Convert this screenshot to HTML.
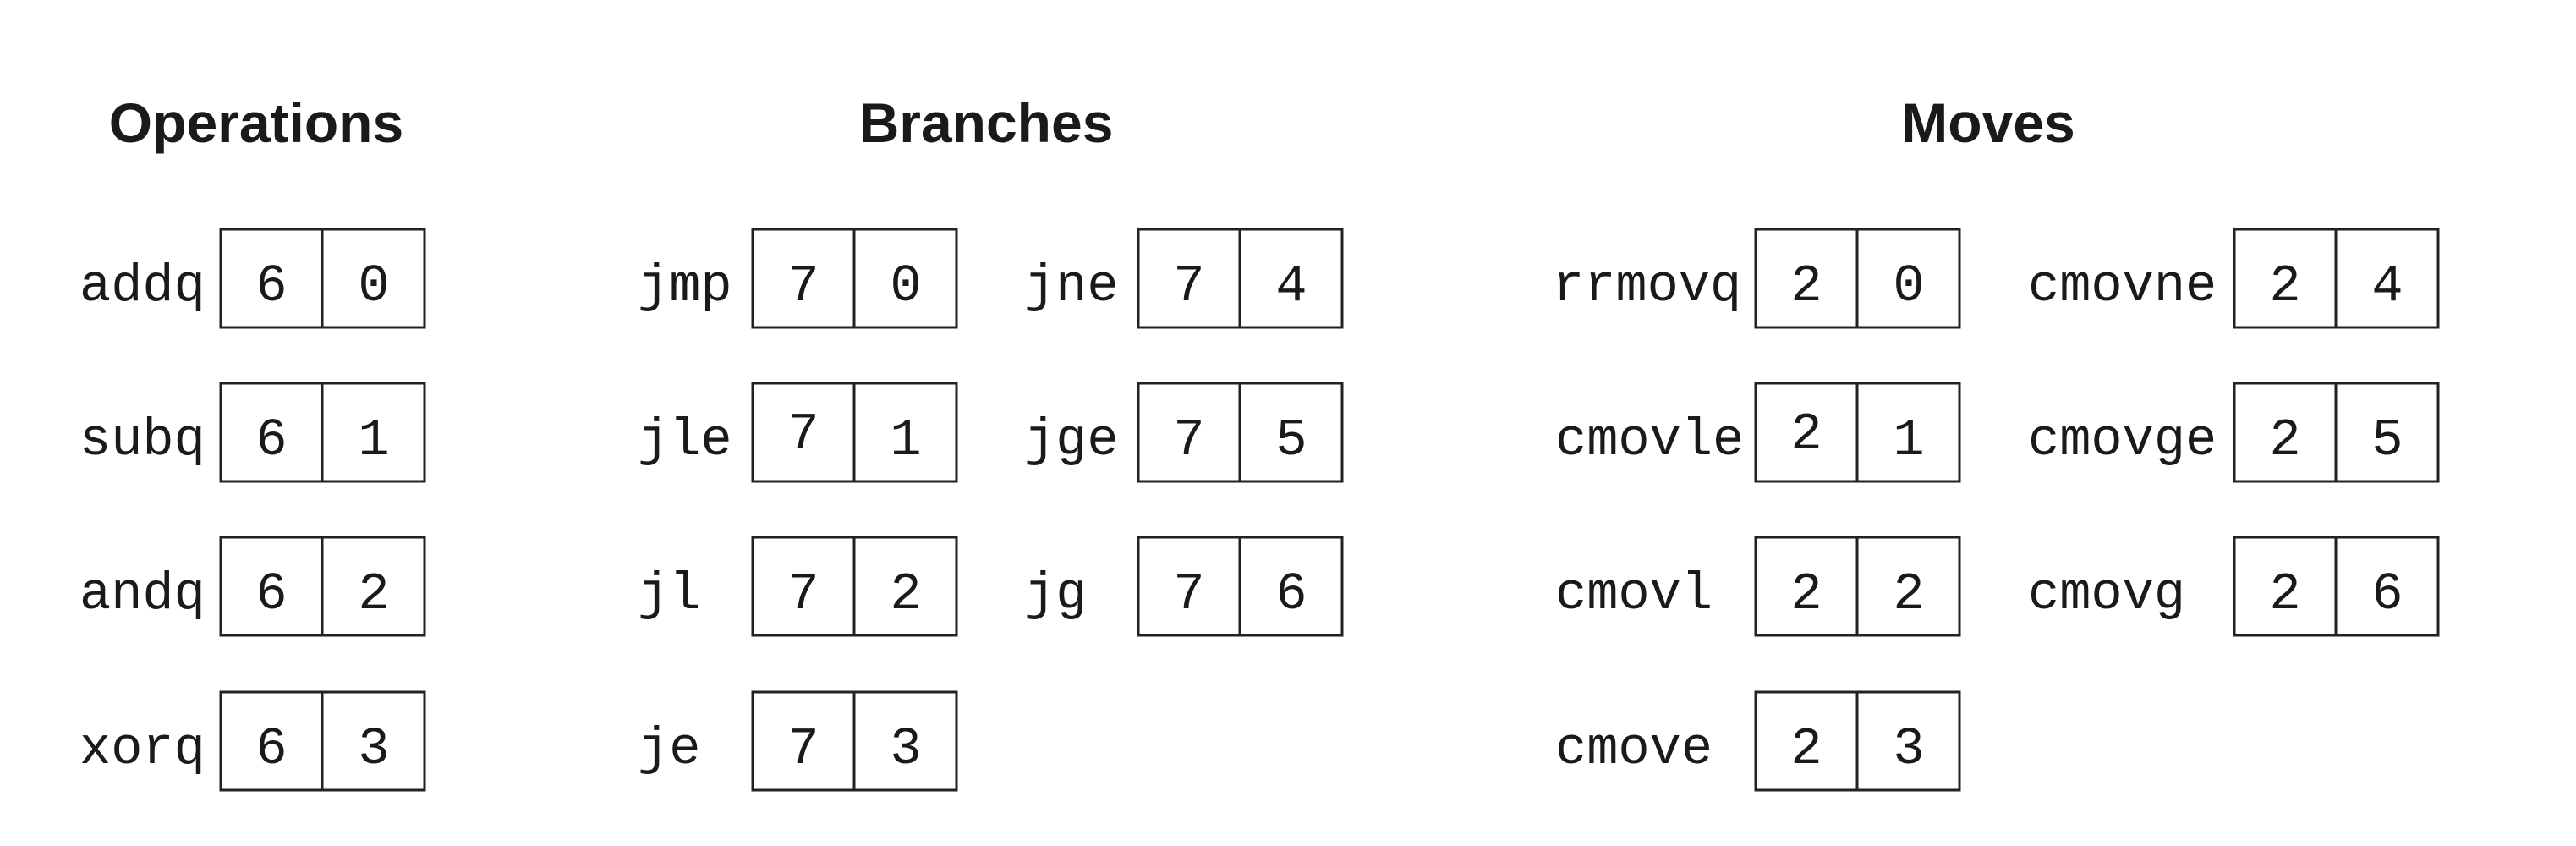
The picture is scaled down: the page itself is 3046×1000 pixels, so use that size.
<!DOCTYPE html>
<html><head><meta charset="utf-8"><style>
html,body{margin:0;padding:0;background:#fff;}
svg{display:block}
.t{font-family:"Liberation Sans",sans-serif;font-weight:bold;font-size:66px;fill:#1a1a1a;text-anchor:middle}
.l{font-family:"Liberation Mono",monospace;font-size:62px;fill:#1a1a1a}
.d{font-family:"Liberation Mono",monospace;font-size:62px;fill:#1a1a1a;text-anchor:middle}
rect,line{stroke:#222;stroke-width:3;fill:none}
</style></head><body>
<svg width="3046" height="1000" viewBox="0 0 3046 1000" xmlns="http://www.w3.org/2000/svg">
<text class="t" x="303" y="168">Operations</text>
<text class="t" x="1166" y="168">Branches</text>
<text class="t" x="2351" y="168">Moves</text>
<g>
<!-- Operations -->
<text class="l" x="94" y="355">addq</text><rect x="261" y="271" width="241" height="116"/><line x1="381" y1="271" x2="381" y2="387"/><text class="d" x="321" y="355">6</text><text class="d" x="442" y="355">0</text>
<text class="l" x="94" y="537">subq</text><rect x="261" y="453" width="241" height="116"/><line x1="381" y1="453" x2="381" y2="569"/><text class="d" x="321" y="537">6</text><text class="d" x="442" y="537">1</text>
<text class="l" x="94" y="719">andq</text><rect x="261" y="635" width="241" height="116"/><line x1="381" y1="635" x2="381" y2="751"/><text class="d" x="321" y="719">6</text><text class="d" x="442" y="719">2</text>
<text class="l" x="94" y="902">xorq</text><rect x="261" y="818" width="241" height="116"/><line x1="381" y1="818" x2="381" y2="934"/><text class="d" x="321" y="902">6</text><text class="d" x="442" y="902">3</text>
</g>
<g transform="translate(-4,0)">
<text class="l" x="758" y="355">jmp</text><rect x="894" y="271" width="241" height="116"/><line x1="1014" y1="271" x2="1014" y2="387"/><text class="d" x="954" y="355">7</text><text class="d" x="1075" y="355">0</text>
<text class="l" x="758" y="537">jle</text><rect x="894" y="453" width="241" height="116"/><line x1="1014" y1="453" x2="1014" y2="569"/><text class="d" x="954" y="530">7</text><text class="d" x="1075" y="537">1</text>
<text class="l" x="758" y="719">jl</text><rect x="894" y="635" width="241" height="116"/><line x1="1014" y1="635" x2="1014" y2="751"/><text class="d" x="954" y="719">7</text><text class="d" x="1075" y="719">2</text>
<text class="l" x="758" y="902">je</text><rect x="894" y="818" width="241" height="116"/><line x1="1014" y1="818" x2="1014" y2="934"/><text class="d" x="954" y="902">7</text><text class="d" x="1075" y="902">3</text>
</g>
<g transform="translate(-8,0)">
<text class="l" x="1219" y="355">jne</text><rect x="1354" y="271" width="241" height="116"/><line x1="1474" y1="271" x2="1474" y2="387"/><text class="d" x="1414" y="355">7</text><text class="d" x="1535" y="355">4</text>
<text class="l" x="1219" y="537">jge</text><rect x="1354" y="453" width="241" height="116"/><line x1="1474" y1="453" x2="1474" y2="569"/><text class="d" x="1414" y="537">7</text><text class="d" x="1535" y="537">5</text>
<text class="l" x="1219" y="719">jg</text><rect x="1354" y="635" width="241" height="116"/><line x1="1474" y1="635" x2="1474" y2="751"/><text class="d" x="1414" y="719">7</text><text class="d" x="1535" y="719">6</text>
</g>
<g transform="translate(-12,0)">
<text class="l" x="1848" y="355">rrmovq</text><rect x="2088" y="271" width="241" height="116"/><line x1="2208" y1="271" x2="2208" y2="387"/><text class="d" x="2148" y="355">2</text><text class="d" x="2269" y="355">0</text>
<text class="l" x="1851" y="537">cmovle</text><rect x="2088" y="453" width="241" height="116"/><line x1="2208" y1="453" x2="2208" y2="569"/><text class="d" x="2148" y="530">2</text><text class="d" x="2269" y="537">1</text>
<text class="l" x="1851" y="719">cmovl</text><rect x="2088" y="635" width="241" height="116"/><line x1="2208" y1="635" x2="2208" y2="751"/><text class="d" x="2148" y="719">2</text><text class="d" x="2269" y="719">2</text>
<text class="l" x="1851" y="902">cmove</text><rect x="2088" y="818" width="241" height="116"/><line x1="2208" y1="818" x2="2208" y2="934"/><text class="d" x="2148" y="902">2</text><text class="d" x="2269" y="902">3</text>
</g>
<g transform="translate(-14,0)">
<text class="l" x="2412" y="355">cmovne</text><rect x="2656" y="271" width="241" height="116"/><line x1="2776" y1="271" x2="2776" y2="387"/><text class="d" x="2716" y="355">2</text><text class="d" x="2837" y="355">4</text>
<text class="l" x="2412" y="537">cmovge</text><rect x="2656" y="453" width="241" height="116"/><line x1="2776" y1="453" x2="2776" y2="569"/><text class="d" x="2716" y="537">2</text><text class="d" x="2837" y="537">5</text>
<text class="l" x="2412" y="719">cmovg</text><rect x="2656" y="635" width="241" height="116"/><line x1="2776" y1="635" x2="2776" y2="751"/><text class="d" x="2716" y="719">2</text><text class="d" x="2837" y="719">6</text>
</g>
</svg>
</body></html>
